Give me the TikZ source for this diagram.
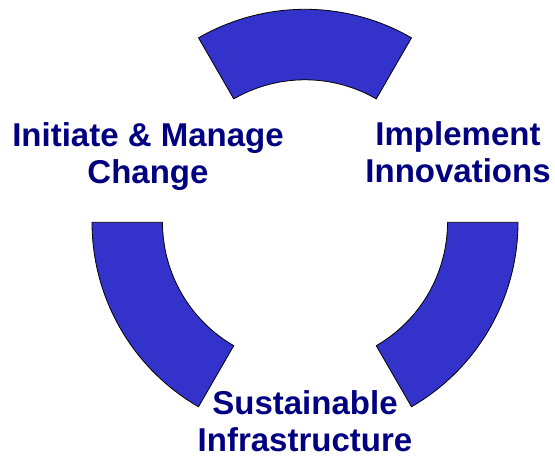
\documentclass[tikz,border=0pt]{standalone}
\usepackage{fontspec}
\setmainfont{Liberation Sans}
\usetikzlibrary{calc}
\definecolor{segblue}{RGB}{51,51,204}
\definecolor{labelnavy}{RGB}{0,0,128}
\begin{document}
\begin{tikzpicture}[x=1pt,y=1pt,
  seg/.style={fill=segblue,draw=black,line width=0.8pt,line join=miter},
  lbl/.style={text=labelnavy,font=\fontsize{33}{37}\selectfont\bfseries,align=center,inner sep=0pt}]
\useasboundingbox (0,0) rectangle (555,457);
\coordinate (c) at (305,234.7);
\def\Ro{213}
\def\Ri{142.5}
\foreach \a in {60,180,300}{
  \pgfmathsetmacro{\b}{\a+60}
  \draw[seg] ($(c)+(\a:\Ro)$) arc[start angle=\a,end angle=\b,radius=\Ro]
     -- ($(c)+(\b:\Ri)$) arc[start angle=\b,end angle=\a,radius=\Ri] -- cycle;
}
\node[lbl] (init) at (148,300) {Initiate \& Manage\\Change};
\node[lbl] (impl) at (458,304.5) {Implement\\Innovations};
\node[lbl] (sust) at (305,36) {Sustainable\\Infrastructure};
\end{tikzpicture}
\end{document}
